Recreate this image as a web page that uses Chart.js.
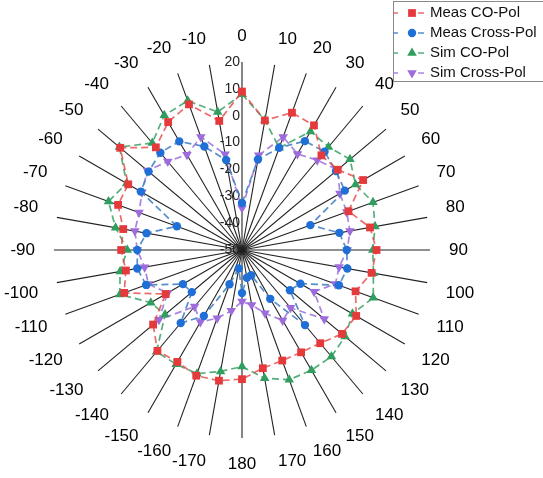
<!DOCTYPE html>
<html>
<head>
<meta charset="utf-8">
<script src="https://cdn.jsdelivr.net/npm/chart.js@4/dist/chart.umd.min.js"></script>
<style>
  html, body { margin: 0; background: #fff; }
  #wrap { position: relative; width: 543px; height: 478px; }
</style>
</head>
<body>
<div id="wrap"><canvas id="polar"></canvas></div>
<script>
const angles = ["0", "10", "20", "30", "40", "50", "60", "70", "80", "90",
  "100", "110", "120", "130", "140", "150", "160", "170", "180",
  "-170", "-160", "-150", "-140", "-130", "-120", "-110", "-100", "-90",
  "-80", "-70", "-60", "-50", "-40", "-30", "-20", "-10"];
const tickLabels = [20, 10, 0, -10, -20, -30, -40, -50];

const measCo = [9, -1, 4.4, 3.6, -4, -3.5, 2.1, -7.8, -1.6, 0.1,
  -1, -5, -0.9, -1.4, -4.7, -6, -6.2, -5.3, -1.9,
  -0.6, -0.2, -1.9, -1, -6.8, -17.2, -3.3, -6.1, -5,
  -5.1, -0.9, -1.1, 9.2, -0.1, 5, 7.7, -1.2];
const measCross = [-32.5, -15.8, -9.5, -3.2, -2.2, -4.3, -5.8, -22.9, -13.2, -11,
  -10.2, -11.6, -24.9, -26.7, -13.5, -29, -40, -39.5, -34,
  -43, -36.4, -21.6, -14.5, -25.6, -24.6, -12, -10.4, -11,
  -13.9, -24.2, -6.5, -4.6, -2.7, -3.3, -9, -16];
const simCo = [8, -0.9, -9.5, 1, 0.1, 2.5, -1.2, 1.9, 0.3, -1.3,
  -0.3, 2, -2.5, 0.1, 1.8, 1.7, 1.4, -1.5, -6.6,
  -4.1, -1, -0.9, -0.5, -12.6, -10.8, -1.6, -3.9, -7.3,
  -2.2, 2.9, -0.4, 9.6, 2, 7.9, 9.1, 2.2];
const simCross = [-34.4, -14.2, -5.2, -8.7, -6.4, -3.5, -7.9, -8.5, -9.2, -10.8,
  -13.3, -13, -19, -10, -21.9, -19.7, -24.9, -29.2, -30.8,
  -27, -23, -19, -22.5, -9.6, -18, -12.9, -13.2, -11,
  -9.5, -9.2, -7, -4, -7, -9, -5.2, -13.8];

const FONT = "Arial, 'Liberation Sans', sans-serif";

const series = [
  { label: "Meas CO-Pol", data: measCo, mark: "#e53a3c", line: "rgba(229,70,70,0.8)", style: "rect", radius: 5.5, rot: 0 },
  { label: "Meas Cross-Pol", data: measCross, mark: "#1f6fd6", line: "rgba(70,130,195,0.9)", style: "circle", radius: 4.2, rot: 0 },
  { label: "Sim CO-Pol", data: simCo, mark: "#2f9e5e", line: "rgba(70,165,110,0.9)", style: "triangle", radius: 5.5, rot: 0 },
  { label: "Sim Cross-Pol", data: simCross, mark: "#9d6bdb", line: "rgba(160,120,220,0.9)", style: "triangle", radius: 5.5, rot: 180 }
];

function drawMarker(ctx, s, x, y) {
  const r = s.radius;
  ctx.fillStyle = s.mark;
  ctx.beginPath();
  if (s.style === "rect") {
    const h = r * Math.SQRT1_2;
    ctx.rect(x - h, y - h, 2 * h, 2 * h);
  } else if (s.style === "circle") {
    ctx.arc(x, y, r, 0, Math.PI * 2);
  } else {
    const dir = s.rot === 180 ? -1 : 1;
    ctx.moveTo(x, y - dir * r);
    ctx.lineTo(x + r * 0.87, y + dir * r * 0.5);
    ctx.lineTo(x - r * 0.87, y + dir * r * 0.5);
    ctx.closePath();
  }
  ctx.fill();
}

const decor = {
  id: "decor",
  beforeDatasetsDraw(chart) {
    const r = chart.scales.r;
    const ctx = chart.ctx;
    ctx.save();
    ctx.font = "14px " + FONT;
    ctx.fillStyle = "#222";
    ctx.textAlign = "right";
    ctx.textBaseline = "middle";
    tickLabels.forEach((v) => {
      ctx.fillText(String(v), r.xCenter - 2, r.yCenter - r.getDistanceFromCenterForValue(v));
    });

    ctx.font = "17px " + FONT;
    ctx.fillStyle = "#000";
    angles.forEach((lab, i) => {
      const p = r.getPointPosition(i, r.drawingArea + 19);
      const deg = i * 10;
      ctx.textAlign = deg === 0 || deg === 180 ? "center" : deg < 180 ? "left" : "right";
      let y = p.y;
      if (deg === 90 || deg === 270) y -= 0;
      else if (deg < 90 || deg > 270) y -= 7;
      else y += 7;
      ctx.textBaseline = "middle";
      ctx.fillText(lab, p.x, y);
    });
    ctx.restore();
  },
  afterDraw(chart) {
    const ctx = chart.ctx;
    ctx.save();
    ctx.fillStyle = "#fff";
    ctx.fillRect(393, 1, 152, 81);
    ctx.strokeStyle = "#8a8a8a";
    ctx.lineWidth = 1;
    ctx.strokeRect(393.5, 1.5, 160, 80);
    ctx.font = "15px " + FONT;
    ctx.textAlign = "left";
    ctx.textBaseline = "middle";
    series.forEach((s, k) => {
      const y = 13 + k * 20;
      ctx.strokeStyle = s.line;
      ctx.lineWidth = 1.6;
      ctx.beginPath();
      ctx.moveTo(393, y); ctx.lineTo(398, y);
      ctx.moveTo(418, y); ctx.lineTo(424, y);
      ctx.stroke();
      drawMarker(ctx, s, 412, y);
      ctx.fillStyle = "#111";
      ctx.fillText(s.label, 430, y);
    });
    ctx.restore();
  }
};

new Chart(document.getElementById("polar"), {
  type: "radar",
  data: {
    labels: angles,
    datasets: series.map((s) => ({
      label: s.label,
      data: s.data,
      borderColor: s.line,
      backgroundColor: s.mark,
      pointBackgroundColor: s.mark,
      pointBorderColor: s.mark,
      pointBorderWidth: 0,
      pointStyle: s.style,
      pointRotation: s.rot,
      pointRadius: s.radius,
      borderWidth: 1.7,
      borderDash: [7, 4],
      fill: false,
      tension: 0
    }))
  },
  options: {
    responsive: true,
    maintainAspectRatio: false,
    animation: false,
    layout: { padding: { left: 54, right: 113, top: 62, bottom: 40 } },
    plugins: { legend: { display: false }, tooltip: { enabled: false } },
    scales: {
      r: {
        min: -50,
        max: 20,
        grid: { display: false },
        angleLines: { display: true, color: "#222", lineWidth: 1.1 },
        ticks: { display: false, stepSize: 10 },
        pointLabels: { display: false }
      }
    }
  },
  plugins: [decor]
});
</script>
</body>
</html>
